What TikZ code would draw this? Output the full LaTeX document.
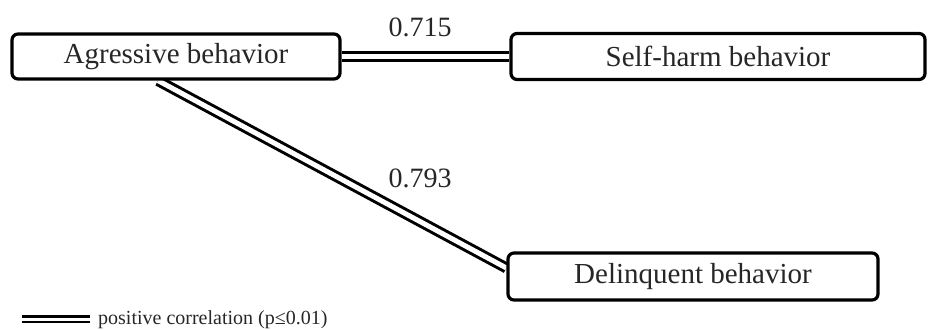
\documentclass[tikz,border=0pt]{standalone}
\usepackage{fontspec}
\setmainfont{Liberation Serif}
\usetikzlibrary{backgrounds}
\tikzset{
  behav/.style={draw, line width=3.2pt, rounded corners=6pt, fill=white,
    text=black!85, font=\fontsize{29}{32}\selectfont, inner sep=0pt},
  corr/.style={draw, line width=3pt, double=white, double distance=5pt},
  val/.style={text=black!85, font=\fontsize{28}{30}\selectfont}
}
\begin{document}
\begin{tikzpicture}[x=1pt,y=-1pt]
\useasboundingbox (0,0) rectangle (928,329);

\node[behav, minimum width=328pt, minimum height=45pt] (agr) at (176,56.5) {Agressive behavior};
\node[behav, minimum width=414pt, minimum height=46pt] (self) at (718,56.5) {Self-harm behavior};
\node[behav, minimum width=370pt, minimum height=47pt] (del) at (693,276.5) {Delinquent behavior};

\begin{scope}[on background layer]
\draw[corr] (agr) -- (self);
\draw[corr] ([xshift=-18pt]agr.south) -- ([yshift=8.5pt]del.west);
\end{scope}

\node[val] (r1) at (420,27) {0.715};
\node[val] (r2) at (420,178) {0.793};

% legend
\coordinate (leg1) at (22,319);
\coordinate (leg2) at (90,319);
\draw[corr, line width=2.2pt, double distance=3pt] (leg1) -- (leg2);
\node[anchor=base west, inner sep=0pt, text=black!85, font=\fontsize{20}{22}\selectfont] (legtxt) at (98,324) {positive correlation (p≤0.01)};

\end{tikzpicture}
\end{document}
